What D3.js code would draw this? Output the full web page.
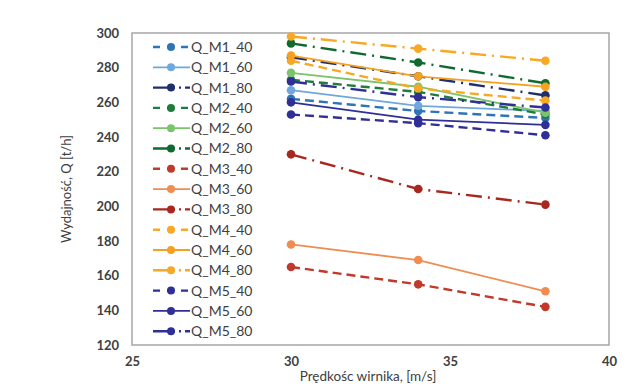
<!DOCTYPE html>
<html>
<head>
<meta charset="utf-8">
<script src="https://cdn.jsdelivr.net/npm/d3@7"></script>
<style>
  body { margin: 0; background: #fff; }
  text { font-family: Lato, "Liberation Sans", sans-serif; fill: #404040; }
</style>
</head>
<body>
<div id="chart"></div>
<script>
// Data
var speeds = [30, 34, 38];
var seriesNames = ["Q_M1_40", "Q_M1_60", "Q_M1_80", "Q_M2_40", "Q_M2_60", "Q_M2_80",
  "Q_M3_40", "Q_M3_60", "Q_M3_80", "Q_M4_40", "Q_M4_60", "Q_M4_80",
  "Q_M5_40", "Q_M5_60", "Q_M5_80"];
var Q_M1_40 = [262, 255, 251];
var Q_M1_60 = [267, 258, 255];
var Q_M1_80 = [286, 275, 264];
var Q_M2_40 = [273, 266, 253];
var Q_M2_60 = [277, 269, 254];
var Q_M2_80 = [294, 283, 271];
var Q_M3_40 = [165, 155, 142];
var Q_M3_60 = [178, 169, 151];
var Q_M3_80 = [230, 210, 201];
var Q_M4_40 = [284, 268, 261];
var Q_M4_60 = [287, 275, 269];
var Q_M4_80 = [298, 291, 284];
var Q_M5_40 = [253, 248, 241];
var Q_M5_60 = [260, 250, 247];
var Q_M5_80 = [272, 263, 257];
var seriesValues = [Q_M1_40, Q_M1_60, Q_M1_80, Q_M2_40, Q_M2_60, Q_M2_80,
  Q_M3_40, Q_M3_60, Q_M3_80, Q_M4_40, Q_M4_60, Q_M4_80,
  Q_M5_40, Q_M5_60, Q_M5_80];
var xTicks = [25, 30, 35, 40];
var yTicks = [120, 140, 160, 180, 200, 220, 240, 260, 280, 300];

// styles
var colors = ["#2e75b6", "#6fa8dc", "#1f2f6b", "#1e7d3a", "#7cc46b", "#0f6a30",
  "#c0392b", "#f08c50", "#a8271e", "#f7a825", "#f5a020", "#f7a825",
  "#2f2f96", "#2f2f96", "#2f2f96"];
var DASH = "9,5", SOLID = null, DASHDOT = "16,6,2,6";
var dashes = [DASH, SOLID, DASHDOT, DASH, SOLID, DASHDOT, DASH, SOLID, DASHDOT,
  DASH, SOLID, DASHDOT, DASH, SOLID, DASHDOT];

var svgWidth = 633, svgHeight = 391;
var margin = {top: 33, right: 24, bottom: 46, left: 132};
var width = svgWidth - margin.left - margin.right;
var height = svgHeight - margin.top - margin.bottom;

var svg = d3.select("#chart").append("svg")
  .attr("width", svgWidth)
  .attr("height", svgHeight);

var chartGroup = svg.append("g")
  .attr("transform", `translate(${margin.left}, ${margin.top})`);

var x = d3.scaleLinear().domain([25, 40]).range([0, width]);
var y = d3.scaleLinear().domain([120, 300]).range([height, 0]);

// plot border
chartGroup.append("rect")
  .attr("x", 0).attr("y", 0)
  .attr("width", width).attr("height", height)
  .attr("fill", "none")
  .attr("stroke", "#a6a6a6")
  .attr("stroke-width", 1.5);

// axes (labels only)
var bottomAxis = d3.axisBottom(x).tickValues(xTicks).tickSize(0).tickPadding(12);
var leftAxis = d3.axisLeft(y).tickValues(yTicks).tickSize(0).tickPadding(13);

var xAxisG = chartGroup.append("g")
  .attr("transform", `translate(0, ${height})`)
  .call(bottomAxis);
var yAxisG = chartGroup.append("g").call(leftAxis);
[xAxisG, yAxisG].forEach(function(g) {
  g.select(".domain").remove();
  g.selectAll("text")
    .style("font-family", "Lato, sans-serif")
    .style("font-size", "13px")
    .style("font-weight", "bold")
    .attr("fill", "#404040");
});

// lines and markers
var line = d3.line()
  .x(function(d, i) { return x(speeds[i]); })
  .y(function(d) { return y(d); });

seriesValues.forEach(function(vals, s) {
  var g = chartGroup.append("g").attr("class", "series");
  g.append("path")
    .datum(vals)
    .attr("d", line)
    .attr("fill", "none")
    .attr("stroke", colors[s])
    .attr("stroke-width", dashes[s] ? 2.4 : 1.8)
    .attr("stroke-dasharray", dashes[s]);
  g.selectAll("circle")
    .data(vals)
    .enter()
    .append("circle")
    .attr("cx", function(d, i) { return x(speeds[i]); })
    .attr("cy", function(d) { return y(d); })
    .attr("r", 4.3)
    .attr("fill", colors[s]);
});

// legend
var legend = chartGroup.append("g")
  .attr("transform", "translate(18, 14)");
seriesNames.forEach(function(name, s) {
  var row = legend.append("g")
    .attr("transform", `translate(0, ${s * 20.3})`);
  row.append("line")
    .attr("x1", 3).attr("x2", 40)
    .attr("y1", 0).attr("y2", 0)
    .attr("stroke", colors[s])
    .attr("stroke-width", dashes[s] ? 2.4 : 1.8)
    .attr("stroke-dasharray", dashes[s] === DASH ? "7,7" : (dashes[s] === DASHDOT ? "22,4,2,4" : null));
  row.append("circle")
    .attr("cx", 21).attr("cy", 0).attr("r", 4)
    .attr("fill", colors[s]);
  row.append("text")
    .attr("x", 41).attr("y", 0)
    .attr("dy", "0.35em")
    .style("font-size", "14px")
    .text(name);
});

// axis titles
chartGroup.append("text")
  .attr("transform", "rotate(-90)")
  .attr("x", -height / 2)
  .attr("y", -61)
  .style("text-anchor", "middle")
  .style("font-size", "13px")
  .text("Wydajność, Q [t/h]");

chartGroup.append("text")
  .attr("x", 236)
  .attr("y", height + 36)
  .style("text-anchor", "middle")
  .style("font-size", "13.5px")
  .text("Prędkośc wirnika, [m/s]");
</script>
</body>
</html>
